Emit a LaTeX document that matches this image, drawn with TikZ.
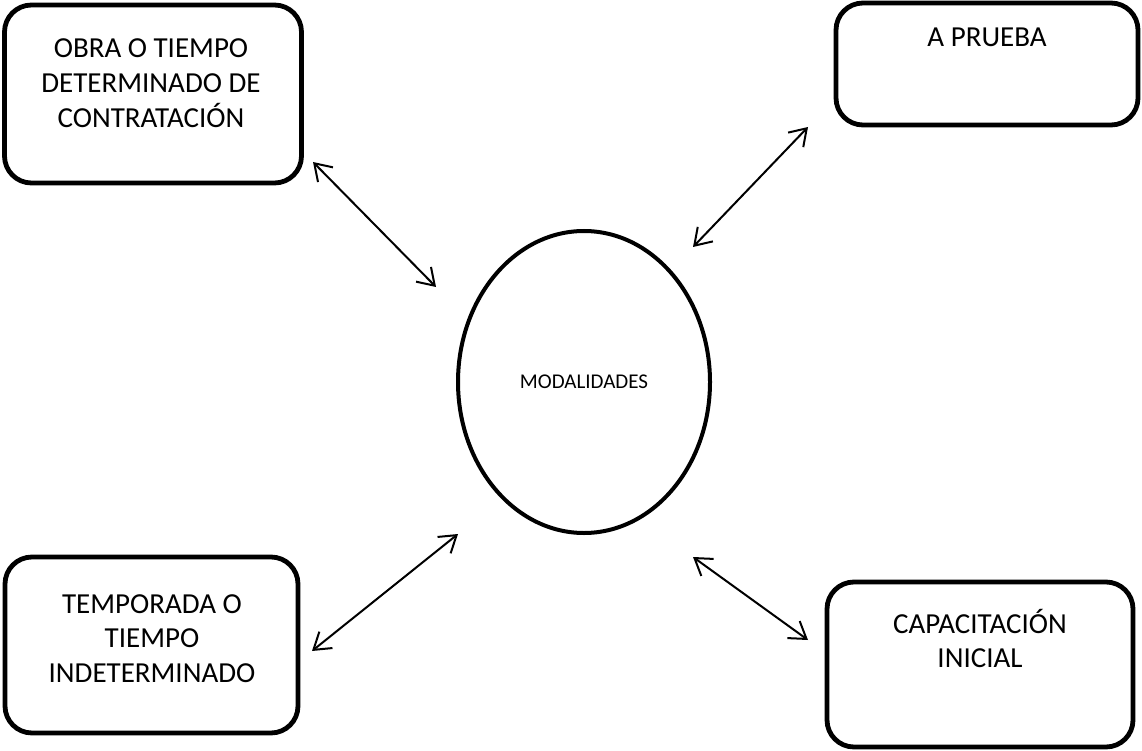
\documentclass[tikz,border=0pt]{standalone}
\usepackage{fontspec}
\setmainfont{Carlito}
\usetikzlibrary{shapes.geometric,arrows.meta}
\tikzset{
  modebox/.style={draw, line width=4.8pt, rounded corners=27pt, inner sep=0pt},
  boxtext/.style={anchor=base, inner sep=0pt, font=\fontsize{29}{34.5}\selectfont},
  hub/.style={draw, ellipse, line width=4pt, inner sep=0pt,
    minimum width=252pt, minimum height=302pt, font=\fontsize{21}{25}\selectfont},
  link/.style={line width=2pt, {Straight Barb[length=16pt,width=21pt]}-{Straight Barb[length=16pt,width=21pt]}}
}
\newcommand{\lines}[1]{\setlength{\tabcolsep}{0pt}\begin{tabular}[t]{c}#1\end{tabular}}
\begin{document}
\begin{tikzpicture}[x=1pt, y=-1pt]
\useasboundingbox (0,0) rectangle (1142,751);

% four contract types around the central ellipse
\node[modebox, minimum width=297pt, minimum height=178pt] (obra) at (153,94) {};
\node[modebox, minimum width=302pt, minimum height=122pt] (prueba) at (987,64) {};
\node[modebox, minimum width=293pt, minimum height=176pt] (temporada) at (151.5,645) {};
\node[modebox, minimum width=306pt, minimum height=165pt] (capacitacion) at (980,664.5) {};

\node[boxtext] (obratxt) at (151,58) {\lines{OBRA O TIEMPO\\DETERMINADO DE\\CONTRATACIÓN}};
\node[boxtext] (pruebatxt) at (987,47) {\lines{A PRUEBA}};
\node[boxtext] (temptxt) at (152,613) {\lines{TEMPORADA O\\TIEMPO\\INDETERMINADO}};
\node[boxtext] (captxt) at (980,633) {\lines{CAPACITACIÓN\\INICIAL}};

\node[hub] (mod) at (584,382) {MODALIDADES};

% arrow end points
\coordinate (a1) at (313,162);
\coordinate (b1) at (436,287);
\coordinate (a2) at (808,127);
\coordinate (b2) at (693,247);
\coordinate (a3) at (312,651);
\coordinate (b3) at (458,534);
\coordinate (a4) at (808,640);
\coordinate (b4) at (693,557);

\draw[link] (a1) -- (b1);
\draw[link] (a2) -- (b2);
\draw[link] (a3) -- (b3);
\draw[link] (a4) -- (b4);
\end{tikzpicture}
\end{document}
